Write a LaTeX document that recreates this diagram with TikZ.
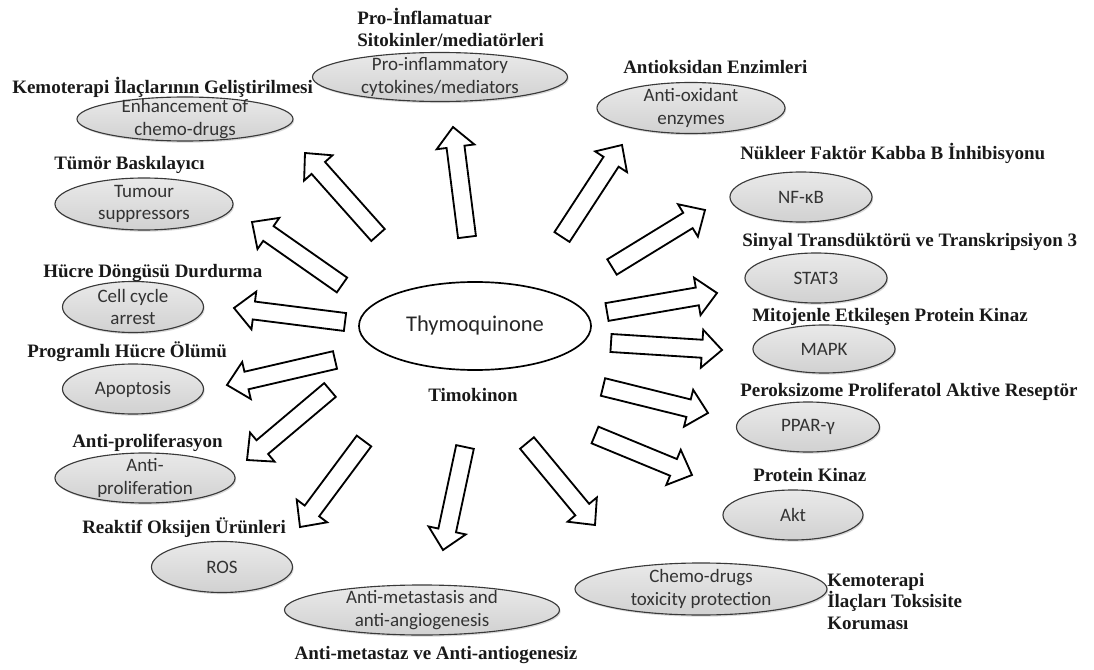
\documentclass[tikz,border=0pt]{standalone}
\usepackage{fontspec}
\setmainfont{Liberation Serif}
\newfontfamily\carl{Carlito}
\usetikzlibrary{calc,shapes.geometric,shadows}

\tikzset{
  bubble/.style={ellipse, draw=gray!45!black, line width=0.8pt,
    top color=gray!17, bottom color=gray!36, inner sep=0pt,
    drop shadow={shadow xshift=0.8pt,shadow yshift=-1.2pt,opacity=.3}},
  btxt/.style={font=\carl\fontsize{13.5}{16}\selectfont, align=center,
    text=black!80, inner sep=0pt},
  trk/.style={font=\bfseries\fontsize{13.5}{15}\selectfont, text=black!90,
    inner sep=0pt},
  fat/.style={draw=black, fill=white, line width=1.3pt, line join=miter},
}
\newcommand{\fatarrow}[2]{%
  \draw[fat] ($(#1)!.225cm!90:(#2)$) -- ($(#2)!.5cm!(#1)!.225cm!90:(#2)$)
    -- ($(#2)!.5cm!(#1)!.475cm!90:(#2)$) -- (#2)
    -- ($(#2)!.5cm!(#1)!.475cm!-90:(#2)$) -- ($(#2)!.5cm!(#1)!.225cm!-90:(#2)$)
    -- ($(#1)!.225cm!-90:(#2)$) -- cycle;}

\begin{document}
\begin{tikzpicture}[x=0.025cm,y=-0.025cm]
\useasboundingbox (0,0) rectangle (1094,670);

% centre
\node[ellipse, draw, line width=1.2pt, minimum width=5.8cm, minimum height=2.2cm,
  font=\carl\fontsize{16}{19}\selectfont, text=black!85] (tq) at (475,326) {Thymoquinone};
\node[trk] (tq-tr) at (473,395) {Timokinon};

% left side
\node[bubble, minimum width=6.375cm, minimum height=1.225cm,
  label={[btxt]center:{Pro-inflammatory\\cytokines/mediators}}] (infl) at (440,77) {};
\node[trk, anchor=west, align=left] (infl-tr) at (357,27.5) {Pro-İnflamatuar\\Sitokinler/mediatörleri};
\node[bubble, minimum width=5.4cm, minimum height=1.1cm,
  label={[btxt]center:{Enhancement of\\chemo-drugs}}] (enh) at (185,119) {};
\node[trk, anchor=west] (enh-tr) at (12,87) {Kemoterapi İlaçlarının Geliştirilmesi};
\node[bubble, minimum width=4.45cm, minimum height=1.3cm,
  label={[btxt]center:{Tumour\\suppressors}}] (tum) at (144,204) {};
\node[trk, anchor=west] (tum-tr) at (54,165) {Tümör Baskılayıcı};
\node[bubble, minimum width=3.525cm, minimum height=1.275cm,
  label={[btxt]center:{Cell cycle\\arrest}}] (cell) at (133,307) {};
\node[trk, anchor=west] (cell-tr) at (43,273) {Hücre Döngüsü Durdurma};
\node[bubble, minimum width=3.525cm, minimum height=1.25cm,
  label={[btxt]center:Apoptosis}] (apo) at (133,389) {};
\node[trk, anchor=west] (apo-tr) at (27,352) {Programlı Hücre Ölümü};
\node[bubble, minimum width=4.5cm, minimum height=1.25cm,
  label={[btxt]center:{Anti-\\proliferation}}] (prol) at (145,478) {};
\node[trk, anchor=west] (prol-tr) at (72,443) {Anti-proliferasyon};
\node[bubble, minimum width=3.525cm, minimum height=1.275cm,
  label={[btxt]center:ROS}] (ros) at (222,567) {};
\node[trk, anchor=west] (ros-tr) at (82,528) {Reaktif Oksijen Ürünleri};

% bottom
\node[bubble, minimum width=6.875cm, minimum height=1.25cm,
  label={[btxt]center:{Anti-metastasis and\\anti-angiogenesis}}] (meta) at (422,610) {};
\node[trk] (meta-tr) at (436,655) {Anti-metastaz ve Anti-antiogenesiz};
\node[bubble, minimum width=6.3cm, minimum height=1.3cm,
  label={[btxt]center:{Chemo-drugs\\toxicity protection}}] (tox) at (701,589) {};
\node[trk, anchor=west, align=left, font=\bfseries\fontsize{13.5}{15.3}\selectfont]
  (tox-tr) at (827,601.5) {Kemoterapi\\İlaçları Toksisite\\Koruması};

% right side
\node[bubble, minimum width=3.5cm, minimum height=1.25cm,
  label={[btxt]center:Akt}] (akt) at (793,515) {};
\node[trk, anchor=west] (akt-tr) at (753,475) {Protein Kinaz};
\node[bubble, minimum width=3.575cm, minimum height=1.25cm,
  label={[btxt]center:PPAR-γ}] (ppar) at (808,427) {};
\node[trk, anchor=west] (ppar-tr) at (740,392) {Peroksizome Proliferatol Aktive Reseptör};
\node[bubble, minimum width=3.55cm, minimum height=1.2cm,
  label={[btxt]center:MAPK}] (mapk) at (824,349) {};
\node[trk, anchor=west] (mapk-tr) at (752,317) {Mitojenle Etkileşen Protein Kinaz};
\node[bubble, minimum width=3.55cm, minimum height=1.25cm,
  label={[btxt]center:STAT3}] (stat) at (816,278) {};
\node[trk, anchor=west] (stat-tr) at (742,242) {Sinyal Transdüktörü ve Transkripsiyon 3};
\node[bubble, minimum width=3.55cm, minimum height=1.25cm,
  label={[btxt]center:NF-κB}] (nfkb) at (801,197) {};
\node[trk, anchor=west] (nfkb-tr) at (740,153) {Nükleer Faktör Kabba B İnhibisyonu};
\node[bubble, minimum width=4.7cm, minimum height=1.275cm,
  label={[btxt]center:{Anti-oxidant\\enzymes}}] (ox) at (691,108) {};
\node[trk, anchor=west] (ox-tr) at (623,67) {Antioksidan Enzimleri};

% arrow ends
\coordinate (s-infl) at (467,237); \coordinate (e-infl) at (453,127);
\coordinate (s-enh)  at (378,235); \coordinate (e-enh)  at (305,153);
\coordinate (s-tum)  at (342,285); \coordinate (e-tum)  at (252,222);
\coordinate (s-cell) at (345,322); \coordinate (e-cell) at (234,308);
\coordinate (s-apo)  at (335,360); \coordinate (e-apo)  at (227,385);
\coordinate (s-prol) at (330,390); \coordinate (e-prol) at (247,460);
\coordinate (s-ros)  at (364,441); \coordinate (e-ros)  at (300,527);
\coordinate (s-meta) at (465,447); \coordinate (e-meta) at (443,550);
\coordinate (s-tox)  at (527,443); \coordinate (e-tox)  at (595,525);
\coordinate (s-akt)  at (595,435); \coordinate (e-akt)  at (692,475);
\coordinate (s-ppar) at (603,387); \coordinate (e-ppar) at (708,413);
\coordinate (s-mapk) at (611,343); \coordinate (e-mapk) at (722,350);
\coordinate (s-stat) at (607,312); \coordinate (e-stat) at (717,293);
\coordinate (s-nfkb) at (612,267); \coordinate (e-nfkb) at (705,210);
\coordinate (s-ox)   at (562,237); \coordinate (e-ox)   at (622,145);

\fatarrow{s-infl}{e-infl}
\fatarrow{s-enh}{e-enh}
\fatarrow{s-tum}{e-tum}
\fatarrow{s-cell}{e-cell}
\fatarrow{s-apo}{e-apo}
\fatarrow{s-prol}{e-prol}
\fatarrow{s-ros}{e-ros}
\fatarrow{s-meta}{e-meta}
\fatarrow{s-tox}{e-tox}
\fatarrow{s-akt}{e-akt}
\fatarrow{s-ppar}{e-ppar}
\fatarrow{s-mapk}{e-mapk}
\fatarrow{s-stat}{e-stat}
\fatarrow{s-nfkb}{e-nfkb}
\fatarrow{s-ox}{e-ox}
\end{tikzpicture}
\end{document}
